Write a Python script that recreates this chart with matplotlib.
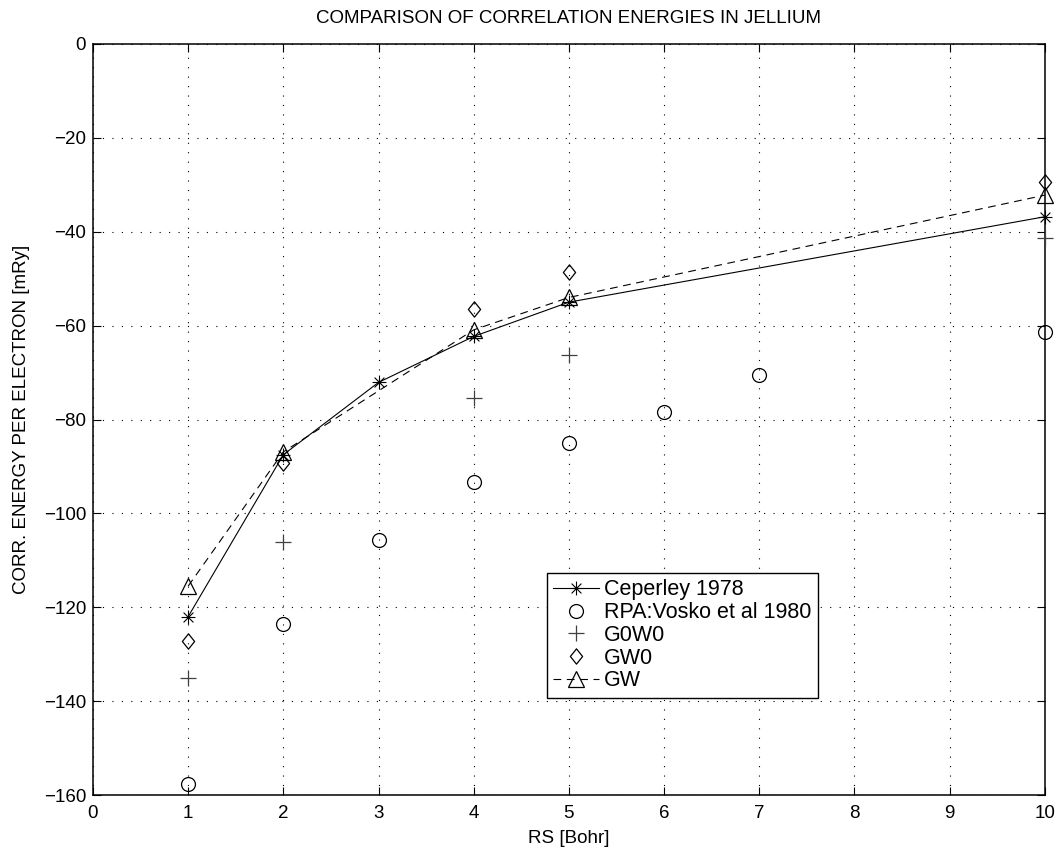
import matplotlib
matplotlib.use("Agg")
import matplotlib.pyplot as plt
import numpy as np
from matplotlib.path import Path

plt.rcParams['font.family'] = ['Liberation Sans', 'DejaVu Sans']

# data
rs_cep = [1, 2, 3, 4, 5, 10]
e_cep = [-122.0, -87.5, -72.1, -62.3, -55.0, -36.8]

rs_rpa = [1, 2, 3, 4, 5, 6, 7, 10]
e_rpa = [-157.6, -123.6, -105.7, -93.4, -84.9, -78.4, -70.5, -61.3]

rs_gw = [1, 2, 4, 5, 10]
e_g0w0 = [-135.0, -106.0, -75.5, -66.3, -41.4]
e_gw0 = [-127.1, -89.3, -56.5, -48.6, -29.5]
e_gw = [-115.5, -86.9, -60.9, -54.0, -32.2]

labels = ["Ceperley 1978", "RPA:Vosko et al 1980", "G0W0", "GW0", "GW"]

# matlab style asterisk and diamond
d = np.sqrt(0.5)
star = Path(
    [(0, -1), (0, 1), (-1, 0), (1, 0), (-d, -d), (d, d), (-d, d), (d, -d)],
    [Path.MOVETO, Path.LINETO] * 4
)
diamond = Path(
    [(0, 1), (0.8, 0), (0, -1), (-0.8, 0), (0, 1)],
    [Path.MOVETO, Path.LINETO, Path.LINETO, Path.LINETO, Path.CLOSEPOLY]
)

fig = plt.figure(figsize=(10.6, 8.51), dpi=100)
ax = fig.add_axes([0.0877, 0.0658, 0.898, 0.8825])

fs = 13.5
kw = dict(clip_on=False, zorder=3)
ax.plot(rs_cep, e_cep, color='k', lw=0.8, marker=star, ms=10,
        mec='k', mfc='none', mew=0.8, label=labels[0], **kw)
ax.plot(rs_rpa, e_rpa, ls='none', marker='o', ms=10, mec='k',
        mfc='none', mew=0.9, label=labels[1], **kw)
ax.plot(rs_gw, e_g0w0, ls='none', marker='+', ms=11, mec='0.25',
        mew=0.9, label=labels[2], **kw)
ax.plot(rs_gw, e_gw0, ls='none', marker=diamond, ms=11, mec='k',
        mfc='none', mew=0.9, label=labels[3], **kw)
ax.plot(rs_gw, e_gw, color='k', lw=0.8, ls=(0, (7, 5)), marker='^', ms=11,
        mec='k', mfc='none', mew=0.9, label=labels[4], **kw)

ax.set_xlim(0, 10)
ax.set_ylim(-160, 0)
ax.set_xticks(range(0, 11))
ax.set_yticks(range(-160, 1, 20))
ax.set_yticklabels([f"\u2212{abs(v)}" if v else "0" for v in range(-160, 1, 20)])

ax.grid(True, color='k', lw=0.8, ls=(0, (1, 7.5)))
ax.tick_params(direction='in', length=6, width=0.8, top=True, right=True,
               labelsize=fs)
ax.tick_params(axis='x', pad=7)
ax.tick_params(axis='y', pad=5)
for s in ax.spines.values():
    s.set_linewidth(1.1)

ax.set_title("COMPARISON OF CORRELATION ENERGIES IN JELLIUM", fontsize=fs, pad=15)
ax.set_xlabel("RS [Bohr]", fontsize=fs, labelpad=6)
ax.set_ylabel("CORR. ENERGY PER ELECTRON [mRy]", fontsize=fs, labelpad=10)

leg = ax.legend(loc='upper left', bbox_to_anchor=(0.477, 0.2956),
                borderaxespad=0, fontsize=15.5, fancybox=False, framealpha=1,
                edgecolor='k', handlelength=2.1, handletextpad=0.25,
                labelspacing=0.08, borderpad=0.3)
leg.get_frame().set_linewidth(1.0)

fig.savefig("out.png", dpi=100)
